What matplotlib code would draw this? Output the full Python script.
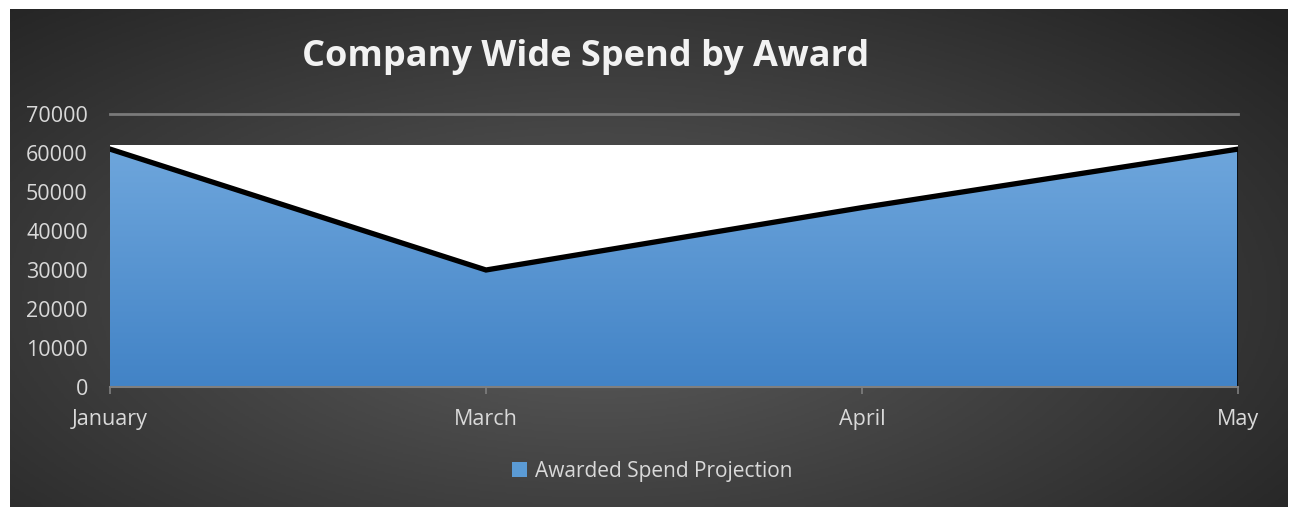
import numpy as np
import matplotlib
matplotlib.use("Agg")
from matplotlib import pyplot as plt
from matplotlib.patches import Patch
from matplotlib.colors import LinearSegmentedColormap

plt.rcParams['font.family'] = ['Open Sans', 'DejaVu Sans']

# data
months = ['January', 'March', 'April', 'May']
spend = [61000, 30000, 46000, 61000]
backdrop = [62000, 62000, 62000, 62000]   # white plot-area band
y_ticks = [0, 10000, 20000, 30000, 40000, 50000, 60000, 70000]

W, H = 1293, 507
fig = plt.figure(figsize=(W / 100, H / 100), dpi=100, facecolor='white')

# dark radial background (white margin around the chart)
bg = fig.add_axes([10 / W, 0, 1278 / W, 498 / H])
bg.set_axis_off()
yy, xx = np.mgrid[0:1:300j, 0:1:700j]
r = np.sqrt(((xx - 0.46) / 0.72) ** 2 + ((yy - 0.58) / 0.85) ** 2)
shade = np.clip(1 - r, 0, 1)
bg_cmap = LinearSegmentedColormap.from_list('bg', ['#222222', '#5a5a5a'])
bg.imshow(shade, cmap=bg_cmap, aspect='auto', extent=[0, 1, 0, 1], vmin=0, vmax=0.95)
bg.set_xlim(0, 1)
bg.set_ylim(0, 1)

ax = fig.add_axes([110 / W, 120 / H, 1128 / W, 273 / H])
ax.patch.set_alpha(0)
x = np.arange(len(months))

ax.fill_between(x, 0, backdrop, color='white', zorder=1, lw=0)

# blue area with vertical gradient
poly = ax.fill_between(x, 0, spend, color='none', lw=0, zorder=2)
grad = np.linspace(0, 1, 256).reshape(-1, 1)
blue_cmap = LinearSegmentedColormap.from_list('bl', ['#4283c6', '#6ea6dc'])
img = ax.imshow(grad, cmap=blue_cmap, aspect='auto', origin='lower',
                extent=[0, len(months) - 1, 0, max(spend)], zorder=2)
img.set_clip_path(poly.get_paths()[0], transform=ax.transData)

ax.plot(x, spend, color='black', lw=3.8, zorder=3, solid_joinstyle='miter')
ax.plot([x[-1], x[-1]], [0, spend[-1]], color='black', lw=2, zorder=3)

ax.set_xlim(0, len(months) - 1)
ax.set_ylim(0, 70000)
ax.set_yticks(y_ticks)
ax.set_yticklabels([str(v) for v in y_ticks])
ax.set_xticks(x)
ax.set_xticklabels(months)
ax.axhline(70000, color='#7a7a7a', lw=2, zorder=0, clip_on=False)

for s in ['top', 'left', 'right']:
    ax.spines[s].set_visible(False)
ax.spines['bottom'].set_color('#7f7f7f')
ax.spines['bottom'].set_linewidth(1.5)
ax.spines['bottom'].set_zorder(4)
ax.tick_params(axis='y', length=0, pad=16, labelsize=15.5, labelcolor='#d9d9d9')
ax.tick_params(axis='x', length=5, width=1.2, color='#7f7f7f', pad=11,
               labelsize=15.5, labelcolor='#d9d9d9')

fig.text(586 / W, 1 - 57 / H, 'Company Wide Spend by Award', ha='center', va='center',
         fontsize=26, fontweight='bold', color='#f2f2f2')

handles = [Patch(facecolor='#5b9bd5', edgecolor='none', label='Awarded Spend Projection')]
leg = fig.legend(handles=handles, loc='center', bbox_to_anchor=(652 / W, 1 - 471 / H),
                 frameon=False, fontsize=15, handlelength=0.75, handleheight=0.75,
                 handletextpad=0.35)
for t in leg.get_texts():
    t.set_color('#d9d9d9')

fig.savefig('out.png', dpi=100, facecolor='white')
